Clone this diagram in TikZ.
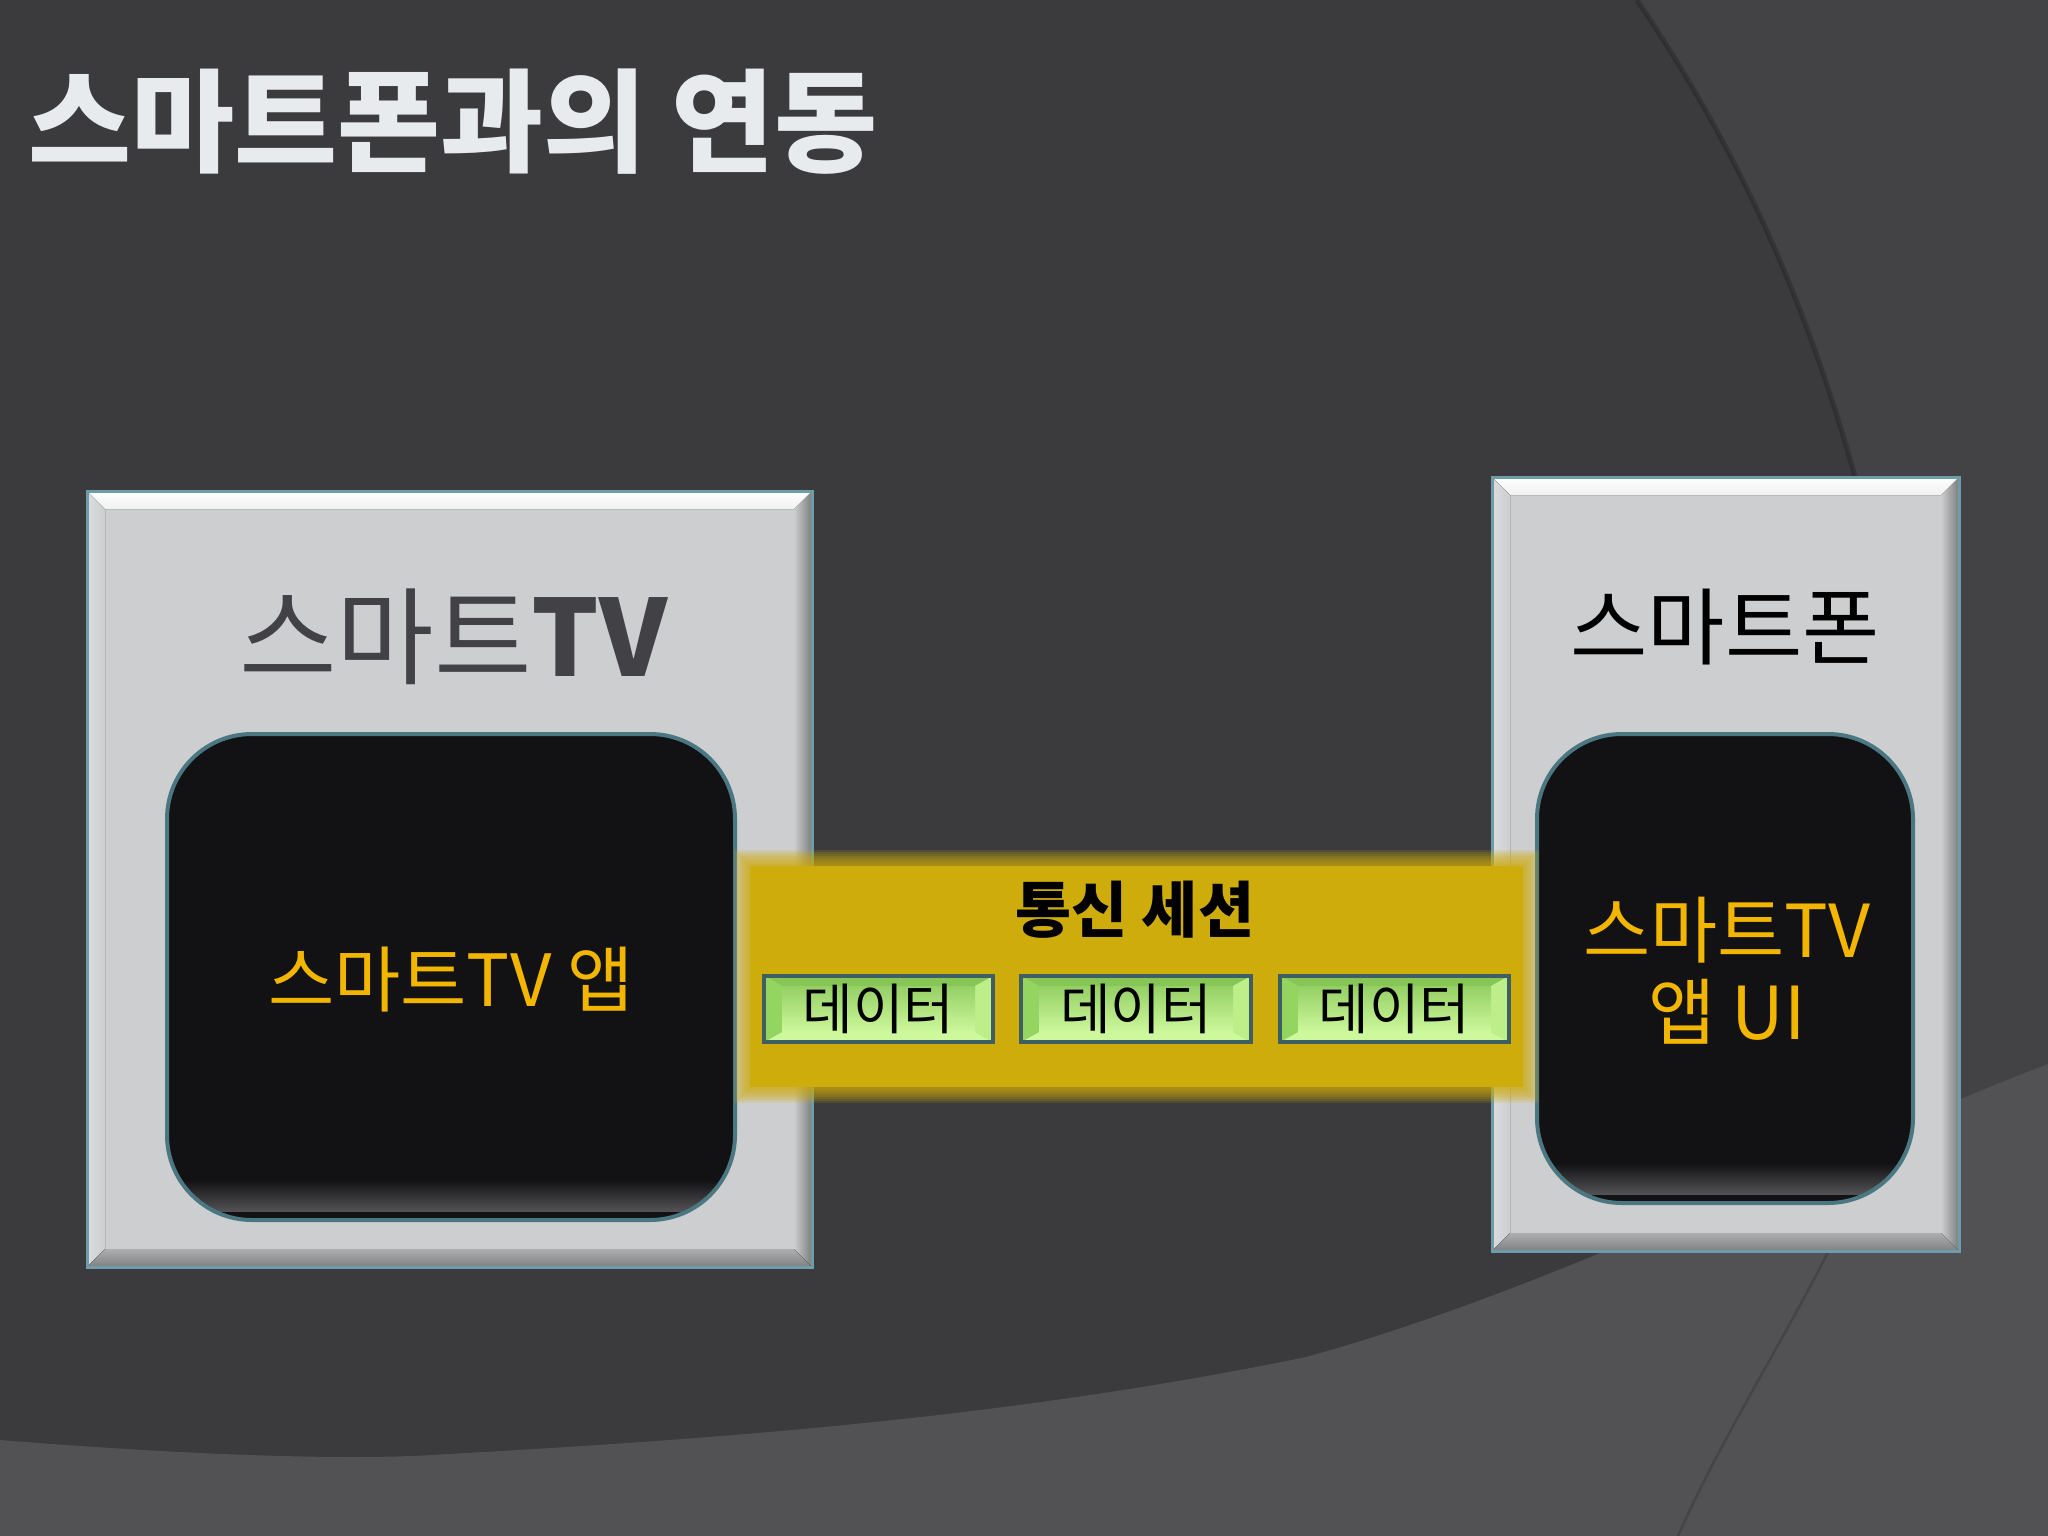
\documentclass[tikz,border=0pt]{standalone}
\usepackage{fontspec}
\setmainfont{Noto Sans CJK KR}
\definecolor{bg}{HTML}{3B3A3D}
\definecolor{bgA}{HTML}{434245}
\definecolor{bgB}{HTML}{525254}
\definecolor{titlec}{HTML}{E8EBEE}
\definecolor{boxface}{HTML}{CDCECF}
\definecolor{boxline}{HTML}{6E9CA8}
\definecolor{labelc}{HTML}{414146}
\definecolor{amber}{HTML}{F2B600}
\definecolor{band}{HTML}{CEAC0B}
\definecolor{inkbk}{HTML}{121113}
\definecolor{inkedge}{HTML}{4A7782}
\definecolor{btnline}{HTML}{3E5E62}
\definecolor{gface}{HTML}{A2E26E}
\definecolor{gtop}{HTML}{86C656}
\definecolor{gbot}{HTML}{CDF89B}
\definecolor{gleft}{HTML}{94D460}
\definecolor{gright}{HTML}{BDEE8A}
\newcommand\bevbox[4]{%
 \fill[boxface] (#1,#2) rectangle (#3,#4);
 \fill[left color=boxface!70!white, right color=boxface] (#1,#2) -- ({#1+18},{#2+18}) -- ({#1+18},{#4-18}) -- (#1,#4) -- cycle;
 \fill[left color=boxface, right color=boxface!60!black] (#3,#2) -- ({#3-18},{#2+18}) -- ({#3-18},{#4-18}) -- (#3,#4) -- cycle;
 \fill[top color=white, bottom color=white!70!boxface] (#1,#2) -- (#3,#2) -- ({#3-18},{#2+18}) -- ({#1+18},{#2+18}) -- cycle;
 \fill[top color=boxface!85!black, bottom color=boxface!62!black] (#1,#4) -- (#3,#4) -- ({#3-18},{#4-18}) -- ({#1+18},{#4-18}) -- cycle;
 \draw[boxline, line width=3] (#1,#2) rectangle (#3,#4);
}
\newcommand\inkbox[4]{%
 \begin{scope}
 \clip[rounded corners=85] (#1,#2) rectangle (#3,#4);
 \fill[inkbk] (#1,#2) rectangle (#3,#4);
 \shade[top color=inkbk, bottom color=inkbk!72!white] (#1,{#4-40}) rectangle (#3,{#4-8});
 \fill[inkbk] (#1,{#4-8}) rectangle (#3,#4);
 \end{scope}
 \draw[inkedge, line width=4, rounded corners=85] (#1,#2) rectangle (#3,#4);
}
\newcommand\btn[3]{%
 \fill[gface] (#1,976) rectangle (#2,1042);
 \fill[gtop] (#1,976) -- (#2,976) -- ({#2-18},986) -- ({#1+18},986) -- cycle;
 \fill[gbot] (#1,1042) -- (#2,1042) -- ({#2-18},1032) -- ({#1+18},1032) -- cycle;
 \fill[gleft] (#1,976) -- ({#1+18},986) -- ({#1+18},1032) -- (#1,1042) -- cycle;
 \fill[gright] (#2,976) -- ({#2-18},986) -- ({#2-18},1032) -- (#2,1042) -- cycle;
 \shade[top color=gface!92!black, bottom color=gbot] ({#1+18},986) rectangle ({#2-18},1032);
 \draw[btnline, line width=3.5] (#1,976) rectangle (#2,1042);
 \node[font=\fontsize{55}{64}\selectfont] (#3) at ({(#1+#2)/2},1009) {데이터};
}
\begin{document}
\begin{tikzpicture}[x=1pt,y=-1pt, every node/.style={inner sep=0pt, outer sep=0pt}]
\useasboundingbox (0,0) rectangle (2048,1536);
% background
\fill[bg] (0,0) rectangle (2048,1536);
\fill[bgA] (1637,0) .. controls (1745,160) and (1845,360) .. (1905,700) -- (1960,1100) -- (2048,1100) -- (2048,0) -- cycle;
\draw[black!80!bg, line width=5, opacity=0.25] (1637,0) .. controls (1745,160) and (1845,360) .. (1905,700);
\fill[bgB] (0,1440) .. controls (200,1456) and (350,1460) .. (431,1455) .. controls (700,1440) and (1000,1420) .. (1306,1357) .. controls (1550,1290) and (1800,1160) .. (2048,1064) -- (2048,1536) -- (0,1536) -- cycle;
\draw[bg!80!black, line width=2.5, opacity=0.35] (1834,1240) .. controls (1790,1330) and (1720,1440) .. (1678,1536);
% title
\node[text=titlec, font=\bfseries\fontsize{112}{130}\selectfont] (title) at (453,122) {스마트폰과의 연동};
% boxes
\bevbox{87}{491}{812}{1267}
\bevbox{1492}{477}{1959}{1251}
\inkbox{167}{734}{735}{1220}
\inkbox{1537}{734}{1913}{1203}
% labels
\node[text=labelc, font=\fontsize{106}{120}\selectfont] (tvlabel) at (454,637) {스마트\textbf{TV}};
\node[text=black, font=\fontsize{84}{96}\selectfont] (phonelabel) at (1725,627) {스마트폰};
\node[text=amber, font=\fontsize{72}{84}\selectfont] (tvapp) at (451,980) {스마트TV 앱};
\node[text=amber, font=\fontsize{73}{82}\selectfont, align=center] (phoneapp) at (1727,971) {스마트TV\\앱 UI};
% band
\foreach \d in {8,6,...,-8} \fill[band, opacity=0.16] ({742-\d},{858-\d}) rectangle ({1531+\d},{1095+\d});
\fill[band] (750,866) rectangle (1523,1087);
\node[font=\bfseries\fontsize{61}{72}\selectfont] (session) at (1135,910) {통신 세션};
\btn{764}{993}{data1}
\btn{1021}{1251}{data2}
\btn{1280}{1509}{data3}
\end{tikzpicture}
\end{document}
